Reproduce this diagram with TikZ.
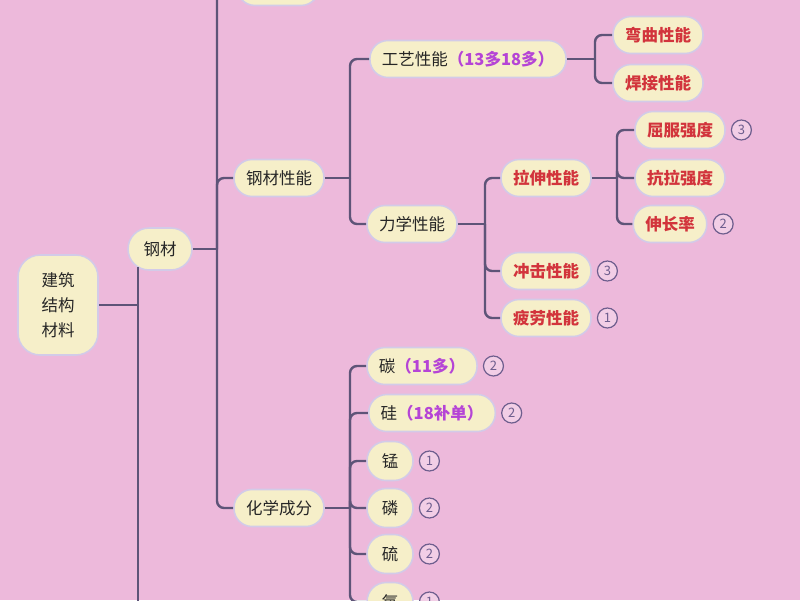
\documentclass[tikz,border=0pt]{standalone}
\usepackage{fontspec}
\usetikzlibrary{positioning}
\setmainfont{Noto Sans CJK SC}
\definecolor{bgc}{HTML}{EDB9DB}
\definecolor{nodefill}{HTML}{F6EFC9}
\definecolor{nodeborder}{HTML}{D3CBE8}
\definecolor{linec}{HTML}{5E5478}
\definecolor{redtxt}{HTML}{D2343C}
\definecolor{purtxt}{HTML}{B544D6}
\definecolor{badgec}{HTML}{6E5E8E}
\tikzset{
  pill/.style={draw=nodeborder, line width=1.6pt, fill=nodefill, rounded corners=18pt,
    minimum height=37pt, inner xsep=12pt, inner ysep=2pt, font=\fontsize{16.5}{18}\selectfont, text=black!85},
  redpill/.style={pill, text=redtxt, font=\fontsize{16.5}{18}\selectfont\bfseries},
  onechar/.style={pill, minimum width=46pt, minimum height=39pt, rounded corners=19pt},
  badge/.style={draw=badgec, line width=1.2pt, circle, minimum size=20pt, inner sep=0pt,
    fill=bgc!70!white, text=badgec, font=\fontsize{13}{14}\selectfont},
  conn/.style={draw=linec, line width=2.4pt, rounded corners=7pt},
  stub/.style={draw=linec, line width=2.4pt}
}
\newcommand{\pur}[1]{\textcolor{purtxt}{\bfseries #1}}
\begin{document}
\begin{tikzpicture}[x=1pt,y=-1pt]
\useasboundingbox (0,0) rectangle (800,600);
\fill[bgc] (0,0) rectangle (800,600);
\clip (0,0) rectangle (800,600);

% nodes
\node[pill, rounded corners=22pt, minimum width=80pt, minimum height=100pt, align=left,
  font=\fontsize{16.5}{25}\selectfont] (root) at (58,305) {建筑\\结构\\材料};
\node[pill, minimum width=64pt, minimum height=42pt, rounded corners=21pt] (gangcai) at (160,249) {钢材};
\node[pill, minimum width=82pt] (topnode) at (278,-13) {};
\node[pill] (xingneng) at (279,178) {钢材性能};
\node[pill] (huaxue) at (279,508) {化学成分};

\node[pill] (gongyi) at (468,59) {工艺性能\pur{（13多18多）}};
\node[pill] (lixue) at (412,224) {力学性能};

\node[redpill] (wanqu) at (658,35) {弯曲性能};
\node[redpill] (hanjie) at (658,83) {焊接性能};

\node[redpill] (lashen) at (546,178) {拉伸性能};
\node[redpill] (chongji) at (546,271) {冲击性能};
\node[redpill] (pilao) at (546,318) {疲劳性能};

\node[redpill] (qufu) at (680,130) {屈服强度};
\node[redpill] (kangla) at (680,178) {抗拉强度};
\node[redpill] (shenchang) at (670,224) {伸长率};

\node[pill] (tan) at (422,366) {碳\pur{（11多）}};
\node[pill] (gui) at (432,413) {硅\pur{（18补单）}};
\node[onechar] (meng) at (390,461) {锰};
\node[onechar] (lin) at (390,508) {磷};
\node[onechar] (liu) at (390,554) {硫};
\node[onechar] (yang) at (390,602) {氧};

% badges
\node[badge, right=5pt of qufu] (b1) {3};
\node[badge, right=5pt of shenchang] (b2) {2};
\node[badge, right=5pt of chongji] (b3) {3};
\node[badge, right=5pt of pilao] (b4) {1};
\node[badge, right=5pt of tan] (b5) {2};
\node[badge, right=5pt of gui] (b6) {2};
\node[badge, right=5pt of meng] (b7) {1};
\node[badge, right=5pt of lin] (b8) {2};
\node[badge, right=5pt of liu] (b9) {2};
\node[badge, right=5pt of yang] (b10) {1};

% trunk from root
\coordinate (trunkTop) at (138,267);
\coordinate (trunkBot) at (138,620);
\draw[stub] (root.east) -- (root.east -| trunkTop);
\draw[stub] (trunkTop) -- (trunkBot);

% gangcai bus
\coordinate (busA) at (217,249);
\draw[stub] (gangcai.east) -- (busA);
\draw[conn] (busA) |- (topnode.west);
\draw[conn] (busA) |- (xingneng.west);
\draw[conn] (busA) |- (huaxue.west);

% xingneng bus
\coordinate (busB) at (350,178);
\draw[stub] (xingneng.east) -- (busB);
\draw[conn] (busB) |- (gongyi.west);
\draw[conn] (busB) |- (lixue.west);

% gongyi bus
\coordinate (busC) at (595,59);
\draw[stub] (gongyi.east) -- (busC);
\draw[conn] (busC) |- (wanqu.west);
\draw[conn] (busC) |- (hanjie.west);

% lixue bus
\coordinate (busD) at (485,224);
\draw[stub] (lixue.east) -- (busD);
\draw[conn] (busD) |- (lashen.west);
\draw[conn] (busD) |- (chongji.west);
\draw[conn] (busD) |- (pilao.west);

% lashen bus
\coordinate (busE) at (617,178);
\draw[stub] (lashen.east) -- (busE);
\draw[conn] (busE) |- (qufu.west);
\draw[conn] (busE) |- (kangla.west);
\draw[conn] (busE) |- (shenchang.west);

% huaxue bus
\coordinate (busF) at (350,508);
\draw[stub] (huaxue.east) -- (busF);
\draw[conn] (busF) |- (tan.west);
\draw[conn] (busF) |- (gui.west);
\draw[conn] (busF) |- (meng.west);
\draw[conn] (busF) |- (lin.west);
\draw[conn] (busF) |- (liu.west);
\draw[conn] (busF) |- (yang.west);
\end{tikzpicture}
\end{document}
